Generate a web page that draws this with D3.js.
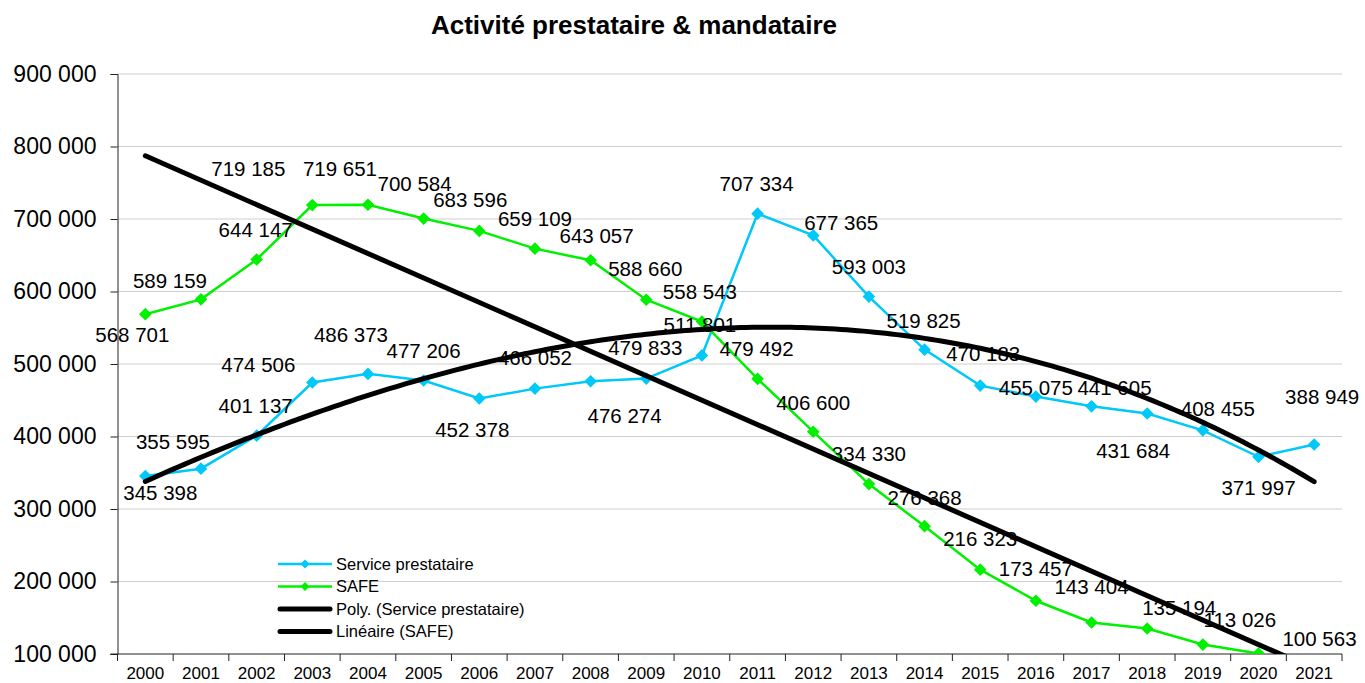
<!DOCTYPE html>
<html>
<head>
<meta charset="utf-8">
<script src="https://cdn.jsdelivr.net/npm/d3@7/dist/d3.min.js"></script>
<style>
  html, body { margin: 0; padding: 0; background: #fff; }
  svg { display: block; font-family: "Liberation Sans", Arial, sans-serif; }
</style>
</head>
<body>
<svg id="chart" width="1365" height="683"></svg>
<script>
// ---------- data ----------
const years = ["2000","2001","2002","2003","2004","2005","2006","2007","2008","2009","2010",
               "2011","2012","2013","2014","2015","2016","2017","2018","2019","2020","2021"];
const serviceValues = [345398, 355595, 401137, 474506, 486373, 477206, 452378, 466052, 476274, 479833, 511801,
                       707334, 677365, 593003, 519825, 470183, 455075, 441605, 431684, 408455, 371997, 388949];
const safeValues = [568701, 589159, 644147, 719185, 719651, 700584, 683596, 659109, 643057, 588660, 558543,
                    479492, 406600, 334330, 276368, 216323, 173457, 143404, 135194, 113026, 100563];
const yTicks = [100000, 200000, 300000, 400000, 500000, 600000, 700000, 800000, 900000];
const seriesNames = ["Service prestataire", "SAFE", "Poly. (Service prestataire)", "Linéaire (SAFE)"];
const titleText = "Activité prestataire & mandataire";
const polyOrder = 3;

// ---------- layout (label offsets, px, relative to each point) ----------
const serviceLabelDx = [15, -28, -1, -54, -17, 0, -7, 0, 34, -1, -2, -1, 28, 0, -1, 3, 0, 23, -14, 15, 0, 8];
const serviceLabelDy = [17, -27, -30, -18, -39, -30, 31, -31, 34, -31, -31, -30, -13, -30, -29, -32, -9, -19, 37, -22, 31, -48];
const safeLabelDx = [-13, -31, -1, -64, -28, -9, -9, 0, 6, -1, -2, -1, 0, 0, 0, 0, 0, 0, 32, 37, 61];
const safeLabelDy = [20, -19, -30, -36, -36, -35, -31, -30, -25, -31, -30, -30, -29, -30, -29, -31, -32, -36, -21, -25, -15];

const cyan = "#00C8F8";
const green = "#00F000";

const fr = d3.formatLocale({decimal: ",", thousands: " ", grouping: [3], currency: ["", " €"]});
const fmt = fr.format(",d");

const svg = d3.select("#chart");
const pLeft = 117.5, pRight = 1342, pTop = 74, pBottom = 654;

const x = d3.scaleBand().domain(years).range([pLeft, pRight]).padding(0);
const cx = d => x(d) + x.bandwidth() / 2;
const y = d3.scaleLinear().domain([100000, 900000]).range([pBottom, pTop]);

// clip
svg.append("defs").append("clipPath").attr("id", "plotclip")
  .append("rect").attr("x", pLeft).attr("y", pTop - 2).attr("width", pRight - pLeft).attr("height", pBottom - pTop + 2);

// title
svg.append("text").attr("x", 634).attr("y", 34).attr("text-anchor", "middle")
  .attr("font-size", 26).attr("font-weight", "bold").attr("fill", "#000").text(titleText);

// gridlines
svg.append("g").selectAll("line").data(yTicks.slice(1)).join("line")
  .attr("x1", pLeft).attr("x2", pRight).attr("y1", d => y(d)).attr("y2", d => y(d))
  .attr("stroke", "#cfcfcf").attr("stroke-width", 1);

// y axis
const yAxis = svg.append("g").attr("transform", `translate(${pLeft},0)`)
  .call(d3.axisLeft(y).tickValues(yTicks).tickSize(7).tickPadding(14).tickFormat(fmt));
yAxis.select(".domain").attr("stroke", "#222");
yAxis.selectAll(".tick line").attr("stroke", "#222");
yAxis.selectAll(".tick text").attr("font-size", 23).attr("fill", "#000")
  .attr("font-family", "'Liberation Sans', Arial, sans-serif");

// x axis
const xg = svg.append("g");
xg.append("line").attr("x1", pLeft - 7).attr("x2", pRight).attr("y1", pBottom).attr("y2", pBottom)
  .attr("stroke", "#222");
const bounds = years.map(d => x(d)).concat([pRight]);
xg.selectAll("line.tk").data(bounds).join("line").attr("class", "tk")
  .attr("x1", d => d).attr("x2", d => d).attr("y1", pBottom).attr("y2", pBottom + 7)
  .attr("stroke", "#222");
xg.selectAll("text").data(years).join("text")
  .attr("x", d => cx(d)).attr("y", 679).attr("text-anchor", "middle")
  .attr("font-size", 17).attr("fill", "#000").text(d => d);

const plot = svg.append("g").attr("clip-path", "url(#plotclip)");

// series lines
const line = d3.line().x((d, i) => cx(years[i])).y(d => y(d));
plot.append("path").datum(serviceValues).attr("d", line)
  .attr("fill", "none").attr("stroke", cyan).attr("stroke-width", 2.5);
plot.append("path").datum(safeValues).attr("d", line)
  .attr("fill", "none").attr("stroke", green).attr("stroke-width", 2.5);

const diamond = d3.symbol().type(d3.symbolSquare).size(80);
function markers(vals, color) {
  plot.append("g").selectAll("path").data(vals).join("path")
    .attr("d", diamond())
    .attr("transform", (d, i) => `translate(${cx(years[i])},${y(d)}) rotate(45)`)
    .attr("fill", color);
}
markers(serviceValues, cyan);
markers(safeValues, green);

// trendlines computed from data (least squares)
function polyFit(vals, order) {
  const m = order + 1;
  const A = d3.range(m).map(() => new Array(m + 1).fill(0));
  vals.forEach((v, i) => {
    const xi = (i + 1) / 10;
    for (let r = 0; r < m; r++) {
      for (let c = 0; c < m; c++) A[r][c] += Math.pow(xi, r + c);
      A[r][m] += v * Math.pow(xi, r);
    }
  });
  for (let c = 0; c < m; c++) {
    for (let r = c + 1; r < m; r++) {
      const f = A[r][c] / A[c][c];
      for (let k = c; k <= m; k++) A[r][k] -= f * A[c][k];
    }
  }
  const b = new Array(m).fill(0);
  for (let r = m - 1; r >= 0; r--) {
    let sum = A[r][m];
    for (let k = r + 1; k < m; k++) sum -= A[r][k] * b[k];
    b[r] = sum / A[r][r];
  }
  return xi => b.reduce((acc, bk, k) => acc + bk * Math.pow(xi / 10, k), 0);
}
const poly = polyFit(serviceValues, polyOrder);
const lin = polyFit(safeValues, 1);
const xLin = d3.scaleLinear().domain([1, years.length]).range([cx(years[0]), cx(years[years.length - 1])]);
const polyPts = d3.range(1, years.length + 0.001, 0.1).map(t => [xLin(t), y(poly(t))]);
plot.append("path").datum(polyPts).attr("d", d3.line())
  .attr("fill", "none").attr("stroke", "#000").attr("stroke-width", 5).attr("stroke-linecap", "round");
const linPts = [1, years.length].map(t => [xLin(t), y(lin(t))]);
plot.append("path").datum(linPts).attr("d", d3.line())
  .attr("fill", "none").attr("stroke", "#000").attr("stroke-width", 5).attr("stroke-linecap", "round");

// data labels
function labels(vals, dxs, dys) {
  svg.append("g").selectAll("text").data(vals).join("text")
    .attr("x", (d, i) => cx(years[i]) + dxs[i])
    .attr("y", (d, i) => y(d) + dys[i])
    .attr("dy", "0.36em")
    .attr("text-anchor", "middle").attr("font-size", 20.5).attr("fill", "#000")
    .text(d => fmt(d));
}
labels(serviceValues, serviceLabelDx, serviceLabelDy);
labels(safeValues, safeLabelDx, safeLabelDy);

// legend
const legendRows = [
  {name: seriesNames[0], color: cyan, w: 2.5, marker: true},
  {name: seriesNames[1], color: green, w: 2.5, marker: true},
  {name: seriesNames[2], color: "#000", w: 5, marker: false},
  {name: seriesNames[3], color: "#000", w: 5, marker: false}
];
const lg = svg.append("g");
const rowY = d3.scalePoint().domain(d3.range(4)).range([564, 631.5]);
legendRows.forEach((r, i) => {
  const yy = rowY(i);
  lg.append("line").attr("x1", r.marker ? 278 : 280).attr("x2", r.marker ? 332 : 330)
    .attr("y1", yy).attr("y2", yy).attr("stroke", r.color).attr("stroke-width", r.w)
    .attr("stroke-linecap", r.marker ? "butt" : "round");
  if (r.marker) {
    lg.append("path").attr("d", d3.symbol().type(d3.symbolSquare).size(40)())
      .attr("transform", `translate(305,${yy}) rotate(45)`).attr("fill", r.color);
  }
  lg.append("text").attr("x", 336).attr("y", yy).attr("dy", "0.36em")
    .attr("font-size", 16.5).attr("fill", "#000").text(r.name);
});
</script>
</body>
</html>
